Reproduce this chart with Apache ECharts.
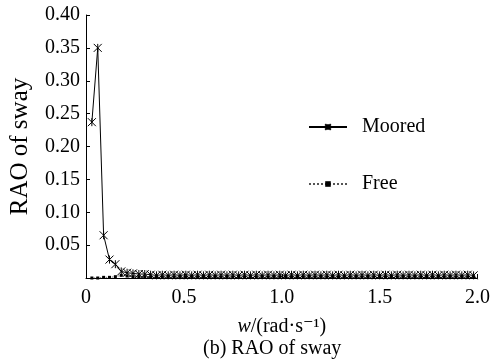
<!DOCTYPE html>
<html>
<head>
<meta charset="utf-8">
<script src="https://cdn.jsdelivr.net/npm/echarts@6/dist/echarts.min.js"></script>
<style>html,body{margin:0;padding:0;background:#fff}#c{width:493px;height:364px}</style>
</head>
<body>
<div id="c"></div>
<script>
const freq = [0.03,0.06,0.09,0.12,0.15,0.18,0.21,0.24,0.27,0.30,
0.33,0.36,0.39,0.42,0.45,0.48,0.51,0.54,0.57,0.60,
0.63,0.66,0.69,0.72,0.75,0.78,0.81,0.84,0.87,0.90,
0.93,0.96,0.99,1.02,1.05,1.08,1.11,1.14,1.17,1.20,
1.23,1.26,1.29,1.32,1.35,1.38,1.41,1.44,1.47,1.50,
1.53,1.56,1.59,1.62,1.65,1.68,1.71,1.74,1.77,1.80,
1.83,1.86,1.89,1.92,1.95,1.98];
const moored = [0.237,0.350,0.065,0.028,0.021,0.010,0.008,0.007,0.006,0.006,
0.005,0.004,0.005,0.004,0.005,0.004,0.005,0.004,0.005,0.004,
0.005,0.004,0.005,0.004,0.005,0.004,0.005,0.004,0.005,0.004,
0.005,0.004,0.005,0.004,0.005,0.004,0.005,0.004,0.005,0.004,
0.005,0.004,0.005,0.004,0.005,0.004,0.005,0.004,0.005,0.004,
0.005,0.004,0.005,0.004,0.005,0.004,0.005,0.004,0.005,0.004,
0.005,0.004,0.005,0.004,0.005,0.004];
const free = [0.000,0.000,0.001,0.001,0.002,0.004,0.003,0.002,0.002,0.002,
0.001,0.002,0.001,0.002,0.001,0.002,0.001,0.002,0.001,0.002,
0.001,0.002,0.001,0.002,0.001,0.002,0.001,0.002,0.001,0.002,
0.001,0.002,0.001,0.002,0.001,0.002,0.001,0.002,0.001,0.002,
0.001,0.002,0.001,0.002,0.001,0.002,0.001,0.002,0.001,0.002,
0.001,0.002,0.001,0.002,0.001,0.002,0.001,0.002,0.001,0.002,
0.001,0.002,0.001,0.002,0.001,0.002];
const seriesNames = ['Moored','Free'];
const xTicks = [0,0.5,1.0,1.5,2.0];
const yTicks = [0.05,0.10,0.15,0.20,0.25,0.30,0.35,0.40];

const FONT = '"Liberation Serif","DejaVu Serif",serif';
const chart = echarts.init(document.getElementById('c'), null, {renderer:'canvas'});
const star = 'path://M0,0L10,10M10,0L0,10M5,0L5,10';
chart.setOption({
  animation:false,
  backgroundColor:'#fff',
  grid:{left:86,right:10,top:15,bottom:86},
  legend:{
    data:seriesNames, orient:'vertical', left:303, top:112, itemGap:37,
    itemWidth:38, itemHeight:7,
    textStyle:{fontFamily:FONT,fontSize:20,color:'#000',padding:[0,0,0,10]}
  },
  xAxis:{
    type:'value', min:0, max:2, interval:0.5,
    name:'{i|w}/(rad·s⁻¹)', nameLocation:'middle', nameGap:39,
    nameTextStyle:{fontFamily:FONT,fontSize:20,color:'#000',
      rich:{i:{fontFamily:FONT,fontStyle:'italic',fontSize:20,color:'#000'}}},
    axisLine:{show:true,lineStyle:{color:'#000',width:1}},
    axisTick:{show:true,inside:true,length:4,lineStyle:{color:'#000'}},
    axisLabel:{fontFamily:FONT,fontSize:20,color:'#000',margin:10,
      formatter:v=>{const t=xTicks.find(x=>Math.abs(x-v)<1e-9);return t===0?'0':(t!==undefined?t.toFixed(1):'');}},
    splitLine:{show:false}
  },
  yAxis:{
    type:'value', min:0, max:0.4, interval:0.05,
    name:'RAO of sway', nameLocation:'middle', nameGap:53,
    nameTextStyle:{fontFamily:FONT,fontSize:25,color:'#000'},
    axisLine:{show:true,lineStyle:{color:'#000',width:1}},
    axisTick:{show:true,inside:true,length:4,lineStyle:{color:'#000'}},
    axisLabel:{fontFamily:FONT,fontSize:20,color:'#000',margin:6,
      formatter:v=>{const t=yTicks.find(y=>Math.abs(y-v)<1e-9);return t!==undefined?t.toFixed(2):'';}},
    splitLine:{show:false}
  },
  graphic:[{type:'text',left:203,top:339,style:{text:'(b) RAO of sway',fontFamily:FONT,fontSize:20,fill:'#000'}}],
  series:[
    {name:'Moored',type:'line',data:freq.map((x,i)=>[x,moored[i]]),
     symbol:star,symbolSize:8,showSymbol:true,
     itemStyle:{color:'transparent',borderColor:'#000',borderWidth:1},
     lineStyle:{color:'#000',width:1}},
    {name:'Free',type:'line',data:freq.map((x,i)=>[x,free[i]]),
     symbol:'rect',symbolSize:3,
     itemStyle:{color:'#000'},
     lineStyle:{color:'#555',width:1,type:'dotted'}}
  ]
});
</script>
</body>
</html>
